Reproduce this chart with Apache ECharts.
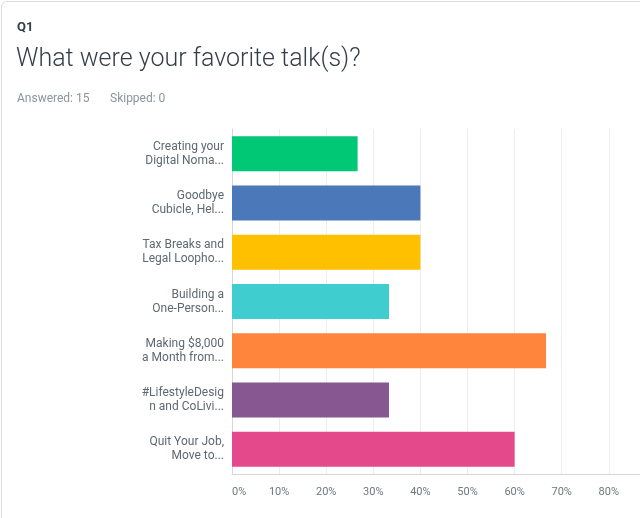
<!DOCTYPE html>
<html>
<head>
<meta charset="UTF-8">
<script src="https://cdn.jsdelivr.net/npm/echarts@6/dist/echarts.min.js"></script>
<style>
html, body { margin: 0; padding: 0; background: #fff; }
#main { width: 640px; height: 518px; }
</style>
</head>
<body>
<div id="main"></div>
<script type="text/javascript">
// survey answers, top to bottom
var talks = [
    'Creating your\nDigital Noma...',
    'Goodbye\nCubicle, Hel...',
    'Tax Breaks and\nLegal Loopho...',
    'Building a\nOne-Person...',
    'Making $8,000\na Month from...',
    '#LifestyleDesig\nn and CoLivi...',
    'Quit Your Job,\nMove to...'
];
var percents = [26.67, 40, 40, 33.33, 66.67, 33.33, 60];
var barColors = ['#00c875', '#4a78b8', '#ffc000', '#40cdd0', '#ff843c', '#865790', '#e4498b'];

var myChart = echarts.init(document.getElementById('main'));

var textFont = 'Roboto';

var option = {
    backgroundColor: '#fff',
    animation: false,
    graphic: [
        {
            type: 'rect',
            shape: { x: 1.5, y: 1.5, width: 720, height: 600, r: 5 },
            style: { fill: 'none', stroke: '#dcdcdc', lineWidth: 1 }
        },
        {
            type: 'text', left: 17, top: 21,
            style: { text: 'Q1', font: 'bold 13px ' + textFont, fill: '#333e48' }
        },
        {
            type: 'text', left: 16, top: 47,
            style: { text: 'What were your favorite talk(s)?', font: '300 25px ' + textFont, fill: '#333e48' }
        },
        {
            type: 'text', left: 17, top: 93,
            style: { text: 'Answered: 15', font: '12px ' + textFont, fill: '#8a949b' }
        },
        {
            type: 'text', left: 110, top: 93,
            style: { text: 'Skipped: 0', font: '12px ' + textFont, fill: '#8a949b' }
        }
    ],
    // the picture is cut off on the right a bit past 80%, so the grid runs past the canvas
    grid: {
        left: 232,
        right: -63,
        top: 129,
        bottom: 44,
        outerBoundsMode: 'none',
        containLabel: false
    },
    xAxis: {
        type: 'value',
        min: 0,
        max: 100,
        interval: 10,
        axisLine: { show: true, lineStyle: { color: '#d6d6d6', width: 1 } },
        axisTick: { show: false },
        splitLine: { show: true, lineStyle: { color: '#ededed', width: 1 } },
        axisLabel: {
            margin: 13,
            color: '#6b787f',
            fontFamily: textFont,
            fontSize: 11,
            alignMinLabel: 'left',
            formatter: '{value}%'
        }
    },
    yAxis: {
        type: 'category',
        inverse: true,
        data: talks,
        axisLine: { show: true, lineStyle: { color: '#d6d6d6', width: 1 } },
        axisTick: { show: false },
        axisLabel: {
            margin: 8,
            color: '#5d6970',
            fontFamily: textFont,
            fontSize: 12,
            lineHeight: 14,
            align: 'right'
        }
    },
    series: [
        {
            name: 'Responses',
            type: 'bar',
            barCategoryGap: '29%',
            data: percents.map(function (v, i) {
                return { value: v, itemStyle: { color: barColors[i] } };
            })
        }
    ]
};

myChart.setOption(option);
</script>
</body>
</html>
